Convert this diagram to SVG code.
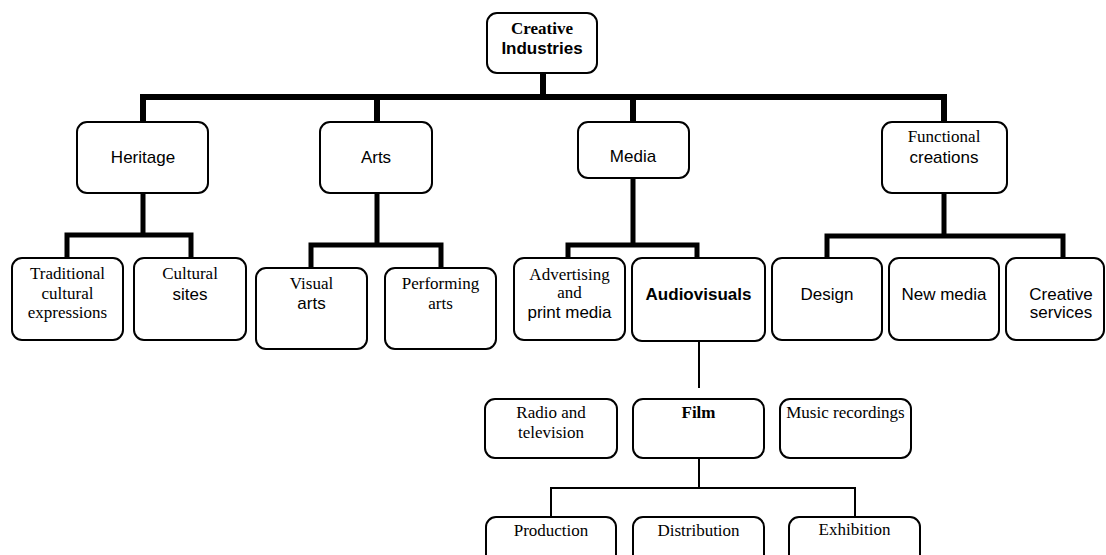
<svg xmlns="http://www.w3.org/2000/svg" width="1106" height="555" viewBox="0 0 1106 555">
<style>
.box{fill:#fff;stroke:#000;stroke-width:2}
.thick{fill:none;stroke:#000;stroke-width:6;stroke-linejoin:miter;stroke-linecap:square}
.mid{fill:none;stroke:#000;stroke-width:5;stroke-linejoin:miter;stroke-linecap:square}
.thin{fill:none;stroke:#000;stroke-width:2}
text{text-anchor:middle;fill:#000}
.s{font-family:"Liberation Sans",Arial,sans-serif;font-size:17px}
.r{font-family:"Liberation Serif","Times New Roman",serif;font-size:17px}
.b{font-weight:bold}
</style>
<rect width="1106" height="555" fill="#fff"/>
<g id="connectors">
<path class="thick" d="M543 73V97M143 122V97H944V122M377 97V122M633 97V122"/>
<path class="mid" d="M143 193V235M67 258V235H191V258"/>
<path class="mid" d="M377 193V245M311 268V245H441V268"/>
<path class="mid" d="M633 178V245M568 258V245H697V258"/>
<path class="mid" d="M944 193V236M827 258V236H1063V258"/>
<path class="thin" d="M699 341V388"/>
<path class="thin" d="M699 458V488M551 517V488H855V517"/>
</g>
<g id="n-root"><rect class="box" x="487" y="13" width="110" height="60" rx="10"/><text class="r b" x="542" y="34">Creative</text><text class="s b" x="542" y="54">Industries</text></g>
<g id="n-heritage"><rect class="box" x="77" y="122" width="131" height="71" rx="10"/><text class="s" x="143" y="163">Heritage</text></g>
<g id="n-arts"><rect class="box" x="320" y="122" width="112" height="71" rx="10"/><text class="s" x="376" y="163">Arts</text></g>
<g id="n-media"><rect class="box" x="578" y="122" width="111" height="56" rx="10"/><text class="s" x="633" y="162">Media</text></g>
<g id="n-functional"><rect class="box" x="882" y="122" width="125" height="71" rx="10"/><text class="r" x="944" y="142">Functional</text><text class="s" x="944" y="163">creations</text></g>
<g id="n-traditional"><rect class="box" x="12" y="258" width="111" height="82" rx="10"/><text class="r" x="67.5" y="279">Traditional</text><text class="r" x="67.5" y="299">cultural</text><text class="r" x="67.5" y="318">expressions</text></g>
<g id="n-sites"><rect class="box" x="134" y="258" width="112" height="82" rx="10"/><text class="r" x="190" y="279">Cultural</text><text class="s" x="190" y="300">sites</text></g>
<g id="n-visual"><rect class="box" x="256" y="268" width="111" height="81" rx="10"/><text class="r" x="311.5" y="289">Visual</text><text class="s" x="311.5" y="309">arts</text></g>
<g id="n-performing"><rect class="box" x="385" y="268" width="111" height="81" rx="10"/><text class="r" x="440.5" y="289">Performing</text><text class="r" x="440.5" y="309">arts</text></g>
<g id="n-advertising"><rect class="box" x="514" y="258" width="111" height="82" rx="10"/><text class="r" x="569.5" y="280">Advertising</text><text class="r" x="569.5" y="298">and</text><text class="s" x="569.5" y="318">print media</text></g>
<g id="n-audiovisuals"><rect class="box" x="632" y="258" width="133" height="83" rx="10"/><text class="s b" x="698.5" y="300">Audiovisuals</text></g>
<g id="n-design"><rect class="box" x="772" y="258" width="110" height="82" rx="10"/><text class="s" x="827" y="300">Design</text></g>
<g id="n-newmedia"><rect class="box" x="889" y="258" width="110" height="82" rx="10"/><text class="s" x="944" y="300">New media</text></g>
<g id="n-creativeservices"><rect class="box" x="1006" y="258" width="98" height="82" rx="10"/><text class="s" x="1061" y="300">Creative</text><text class="s" x="1061" y="318">services</text></g>
<g id="n-radio"><rect class="box" x="485" y="399" width="132" height="59" rx="10"/><text class="r" x="551" y="418">Radio and</text><text class="r" x="551" y="438">television</text></g>
<g id="n-film"><rect class="box" x="633" y="399" width="131" height="59" rx="10"/><text class="r b" x="698.5" y="418">Film</text></g>
<g id="n-music"><rect class="box" x="780" y="399" width="131" height="59" rx="10"/><text class="r" x="845.5" y="418">Music recordings</text></g>
<g id="n-production"><rect class="box" x="486" y="517" width="130" height="60" rx="10"/><text class="r" x="551" y="536">Production</text></g>
<g id="n-distribution"><rect class="box" x="633" y="517" width="131" height="60" rx="10"/><text class="r" x="698.5" y="536">Distribution</text></g>
<g id="n-exhibition"><rect class="box" x="789" y="517" width="131" height="60" rx="10"/><text class="r" x="854.5" y="535">Exhibition</text></g>
</svg>
